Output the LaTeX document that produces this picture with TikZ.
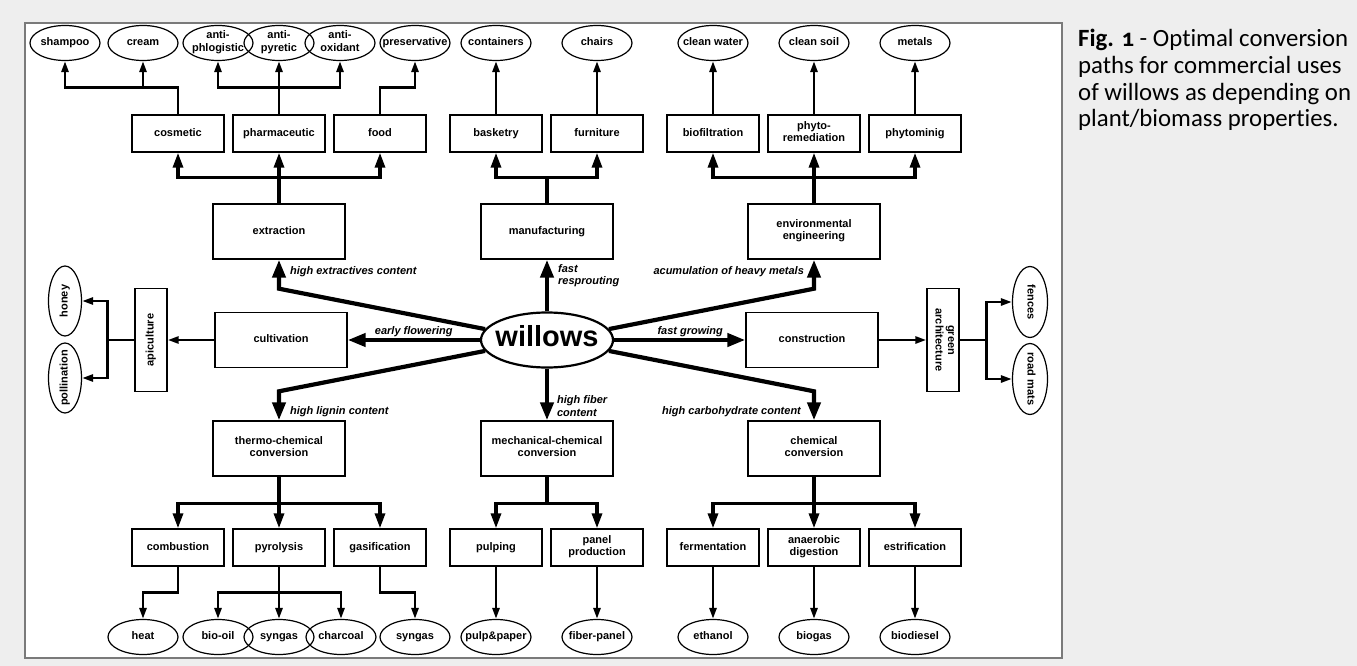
\documentclass[tikz,border=0pt]{standalone}
\usepackage{fontspec}
\setmainfont{Liberation Sans}
\newfontfamily\capfont[Ligatures=NoCommon]{Carlito}
\usetikzlibrary{calc}
\usetikzlibrary{positioning}
\usetikzlibrary{arrows.meta}
\usetikzlibrary{shapes.geometric}
\definecolor{pagegrey}{HTML}{EEEEEE}
\definecolor{framegrey}{HTML}{7A7A7A}
\newcommand{\diagfont}{\bfseries\fontsize{11}{12.5}\selectfont}

\begin{document}
\begin{tikzpicture}[x=1pt, y=-1pt,
    leafnode/.style={ellipse, draw=black, line width=1.2pt, minimum width=70pt, minimum height=35pt, inner sep=0pt},
    boxnode/.style={rectangle, draw=black, line width=1.4pt, minimum width=92pt, minimum height=37pt, font=\diagfont, align=center, inner sep=1pt,
        execute at begin node=\strut, execute at end node=\strut},
    bignode/.style={boxnode, minimum width=132pt, minimum height=55pt},
    hubnode/.style={ellipse, draw=black, line width=2.2pt, minimum width=132pt, minimum height=55pt, inner sep=0pt},
    every label/.style={font=\diagfont, align=center, inner sep=0pt,
        execute at begin node=\strut, execute at end node=\strut},
    spokeline/.style={line width=4.2pt, -{Triangle[length=18pt, width=13pt]}},
    trunkline/.style={line width=3.2pt, -{Triangle[length=15pt, width=10pt]}},
    twigline/.style={line width=2.6pt, -{Triangle[length=11pt, width=7pt]}},
    edgelabel/.style={font=\bfseries\itshape\fontsize{11}{12.5}\selectfont, inner sep=1pt, align=left}]

    % page and panel
    \useasboundingbox (0,0) rectangle (1357,666);
    \fill[pagegrey] (0,0) rectangle (1357,666);
    \draw[framegrey, line width=1.5pt, fill=white] (25,23) rectangle (1062,658);

    % products (top)
    \node[leafnode, label={center:shampoo}] (shampoo) at (65,43) {};
    \node[leafnode, label={center:cream}] (cream) at (143,43) {};
    \node[leafnode, label={center:anti-\\phlogistic}] (phlogistic) at (218,43) {};
    \node[leafnode, label={center:anti-\\pyretic}] (pyretic) at (279,43) {};
    \node[leafnode, label={center:anti-\\oxidant}] (oxidant) at (340,43) {};
    \node[leafnode, label={center:preservative}] (preservative) at (415,43) {};
    \node[leafnode, label={center:containers}] (containers) at (496,43) {};
    \node[leafnode, label={center:chairs}] (chairs) at (597,43) {};
    \node[leafnode, label={center:clean water}] (cleanwater) at (713,43) {};
    \node[leafnode, label={center:clean soil}] (cleansoil) at (814,43) {};
    \node[leafnode, label={center:metals}] (metals) at (915,43) {};

    % uses (top)
    \node[boxnode] (cosmetic) at (178,133.5) {cosmetic};
    \node[boxnode] (pharmaceutic) at (279,133.5) {pharmaceutic};
    \node[boxnode] (food) at (380,133.5) {food};
    \node[boxnode] (basketry) at (496,133.5) {basketry};
    \node[boxnode] (furniture) at (597,133.5) {furniture};
    \node[boxnode] (biofiltration) at (713,133.5) {biofiltration};
    \node[boxnode] (phytoremediation) at (814,133.5) {phyto-\\remediation};
    \node[boxnode] (phytomining) at (915,133.5) {phytominig};

    \node[bignode] (extraction) at (279,231.5) {extraction};
    \node[bignode] (manufacturing) at (547,231.5) {manufacturing};
    \node[bignode] (environmental) at (814,231.5) {environmental\\engineering};

    % middle row
    \node[hubnode, label={[font=\bfseries\fontsize{29}{30}\selectfont]center:willows}] (willows) at (547,340) {};
    \node[bignode] (cultivation) at (281,340) {cultivation};
    \node[bignode] (construction) at (812,340) {construction};
    \node[boxnode, minimum width=32pt, minimum height=103pt, label={[rotate=90]center:apiculture}] (apiculture) at (151,340) {};
    \node[leafnode, minimum width=33pt, minimum height=70pt, label={[rotate=90]center:honey}] (honey) at (65,301) {};
    \node[leafnode, minimum width=33pt, minimum height=70pt, label={[rotate=90]center:pollination}] (pollination) at (65,378) {};
    \node[boxnode, minimum width=32pt, minimum height=103pt, label={[rotate=-90]center:green\\architecture}] (greenarch) at (943,340) {};
    \node[leafnode, minimum width=35pt, minimum height=71pt, label={[rotate=-90]center:fences}] (fences) at (1030,302) {};
    \node[leafnode, minimum width=35pt, minimum height=71pt, label={[rotate=-90]center:road mats}] (roadmats) at (1030,379) {};

    % conversions (bottom)
    \node[bignode] (thermo) at (279,448.5) {thermo-chemical\\conversion};
    \node[bignode] (mechanical) at (547,448.5) {mechanical-chemical\\conversion};
    \node[bignode] (chemical) at (814,448.5) {chemical\\conversion};

    \node[boxnode] (combustion) at (178,547.5) {combustion};
    \node[boxnode] (pyrolysis) at (279,547.5) {pyrolysis};
    \node[boxnode] (gasification) at (380,547.5) {gasification};
    \node[boxnode] (pulping) at (496,547.5) {pulping};
    \node[boxnode] (panel) at (597,547.5) {panel\\production};
    \node[boxnode] (fermentation) at (713,547.5) {fermentation};
    \node[boxnode] (anaerobic) at (814,547.5) {anaerobic\\digestion};
    \node[boxnode] (estrification) at (915,547.5) {estrification};

    \node[leafnode, label={center:heat}] (heat) at (143,637) {};
    \node[leafnode, label={center:bio-oil}] (biooil) at (218,637) {};
    \node[leafnode, label={center:syngas}] (syngasA) at (279,637) {};
    \node[leafnode, label={center:charcoal}] (charcoal) at (341,637) {};
    \node[leafnode, label={center:syngas}] (syngasB) at (415,637) {};
    \node[leafnode, label={center:pulp\&paper}] (pulppaper) at (496,637) {};
    \node[leafnode, label={center:fiber-panel}] (fiberpanel) at (597,637) {};
    \node[leafnode, label={center:ethanol}] (ethanol) at (713,637) {};
    \node[leafnode, label={center:biogas}] (biogas) at (814,637) {};
    \node[leafnode, label={center:biodiesel}] (biodiesel) at (915,637) {};

    % spokes from willows
    \draw[spokeline] (willows.170) -- ($(extraction.south)+(0,29)$) -- node[edgelabel, right=8pt, pos=0.6] {high extractives content} (extraction.south);
    \draw[spokeline] (willows.north) -- node[edgelabel, right=8pt, pos=0.69] {fast\\resprouting} (manufacturing.south);
    \draw[spokeline] (willows.10) -- ($(environmental.south)+(0,29)$) -- node[edgelabel, left=7pt, pos=0.6] {acumulation of heavy metals} (environmental.south);
    \draw[spokeline] (willows.west) -- node[edgelabel, above=0pt, pos=0.5] {early flowering} (cultivation.east);
    \draw[spokeline] (willows.east) -- node[edgelabel, above=0pt, pos=0.58] {fast growing} (construction.west);
    \draw[spokeline] (willows.190) -- ($(thermo.north)+(0,-29)$) -- node[edgelabel, right=8pt, pos=0.69] {high lignin content} (thermo.north);
    \draw[spokeline] (willows.south) -- node[edgelabel, right=7pt, pos=0.72] {high fiber\\content} (mechanical.north);
    \draw[spokeline] (willows.350) -- ($(chemical.north)+(0,-29)$) -- node[edgelabel, left=10pt, pos=0.69] {high carbohydrate content} (chemical.north);

    % upper branches
    \draw[trunkline] (extraction.north) -- ++(0,-26) -| (cosmetic.south);
    \draw[trunkline] (extraction.north) -- (pharmaceutic.south);
    \draw[trunkline] (extraction.north) -- ++(0,-26) -| (food.south);
    \draw[trunkline] (manufacturing.north) -- ++(0,-26) -| (basketry.south);
    \draw[trunkline] (manufacturing.north) -- ++(0,-26) -| (furniture.south);
    \draw[trunkline] (environmental.north) -- ++(0,-26) -| (biofiltration.south);
    \draw[trunkline] (environmental.north) -- (phytoremediation.south);
    \draw[trunkline] (environmental.north) -- ++(0,-26) -| (phytomining.south);

    \draw[twigline] (cosmetic.north) -- ++(0,-27) -| (shampoo.south);
    \draw[twigline] (cosmetic.north) -- ++(0,-27) -| (cream.south);
    \draw[twigline] (pharmaceutic.north) -- ++(0,-27) -| (phlogistic.south);
    \draw[twigline] (pharmaceutic.north) -- (pyretic.south);
    \draw[twigline] (pharmaceutic.north) -- ++(0,-27) -| (oxidant.south);
    \draw[twigline] (food.north) -- ++(0,-27) -| (preservative.south);
    \draw[twigline] (basketry.north) -- (containers.south);
    \draw[twigline] (furniture.north) -- (chairs.south);
    \draw[twigline] (biofiltration.north) -- (cleanwater.south);
    \draw[twigline] (phytoremediation.north) -- (cleansoil.south);
    \draw[twigline] (phytomining.north) -- (metals.south);

    % side branches
    \draw[twigline] (cultivation.west) -- (apiculture.east);
    \draw[twigline] (apiculture.west) -- ++(-27,0) |- (honey.east);
    \draw[twigline] (apiculture.west) -- ++(-27,0) |- (pollination.east);
    \draw[twigline] (construction.east) -- (greenarch.west);
    \draw[twigline] (greenarch.east) -- ++(27,0) |- (fences.west);
    \draw[twigline] (greenarch.east) -- ++(27,0) |- (roadmats.west);

    % lower branches
    \draw[trunkline] (thermo.south) -- ++(0,27) -| (combustion.north);
    \draw[trunkline] (thermo.south) -- (pyrolysis.north);
    \draw[trunkline] (thermo.south) -- ++(0,27) -| (gasification.north);
    \draw[trunkline] (mechanical.south) -- ++(0,27) -| (pulping.north);
    \draw[trunkline] (mechanical.south) -- ++(0,27) -| (panel.north);
    \draw[trunkline] (chemical.south) -- ++(0,27) -| (fermentation.north);
    \draw[trunkline] (chemical.south) -- (anaerobic.north);
    \draw[trunkline] (chemical.south) -- ++(0,27) -| (estrification.north);

    \draw[twigline] (combustion.south) -- ++(0,26) -| (heat.north);
    \draw[twigline] (pyrolysis.south) -- ++(0,26) -| (biooil.north);
    \draw[twigline] (pyrolysis.south) -- (syngasA.north);
    \draw[twigline] (pyrolysis.south) -- ++(0,26) -| (charcoal.north);
    \draw[twigline] (gasification.south) -- ++(0,26) -| (syngasB.north);
    \draw[twigline] (pulping.south) -- (pulppaper.north);
    \draw[twigline] (panel.south) -- (fiberpanel.north);
    \draw[twigline] (fermentation.south) -- (ethanol.north);
    \draw[twigline] (anaerobic.south) -- (biogas.north);
    \draw[twigline] (estrification.south) -- (biodiesel.north);

    % caption
    \node[font=\capfont\fontsize{24.8}{26.7}\selectfont, anchor=north west, align=left, inner sep=0pt] (caption) at (1078,29)
        {\textbf{Fig. {\addfontfeatures{Numbers=OldStyle}1}} - Optimal conversion\\paths for commercial uses\\of willows as depending on\\plant/biomass properties.};
\end{tikzpicture}
\end{document}
